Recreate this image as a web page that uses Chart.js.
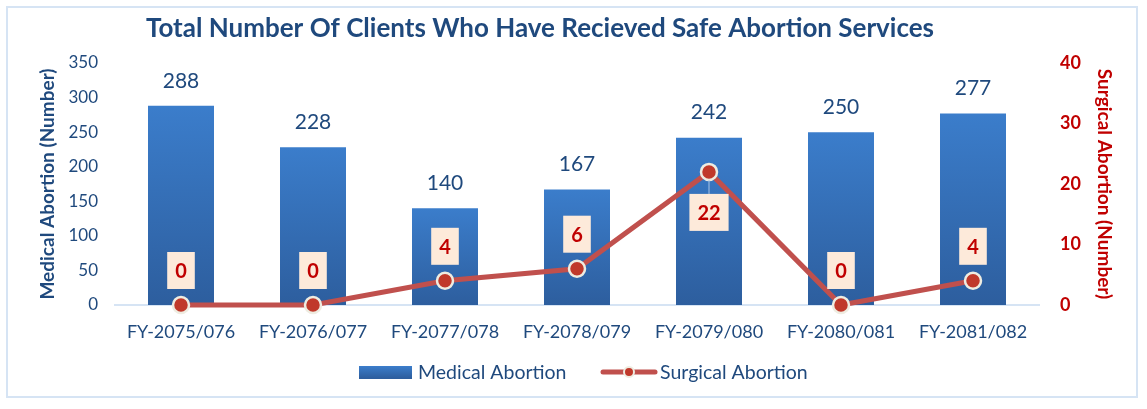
<!DOCTYPE html>
<html>
<head>
<meta charset="utf-8">
<script src="https://cdn.jsdelivr.net/npm/chart.js@4.4.1/dist/chart.umd.min.js"></script>
<style>
  html, body { margin: 0; padding: 0; background: #fff; }
  #wrap { position: relative; width: 1147px; height: 409px; }
  #frame { position: absolute; left: 6px; top: 6px; width: 1132px; height: 392px; border: 2px solid #D6E4F4; box-sizing: border-box; }
  canvas { position: absolute; left: 0; top: 0; }
</style>
</head>
<body>
<div id="wrap">
  <div id="frame"></div>
  <canvas id="chart" width="1147" height="409"></canvas>
</div>
<script>
const categories = ['FY-2075/076', 'FY-2076/077', 'FY-2077/078', 'FY-2078/079', 'FY-2079/080', 'FY-2080/081', 'FY-2081/082']
const medicalAbortion = [288, 228, 140, 167, 242, 250, 277]
const surgicalAbortion = [0, 0, 4, 6, 22, 0, 4]
const leftTicks = [0, 50, 100, 150, 200, 250, 300, 350]
const rightTicks = [0, 10, 20, 30, 40]
const chartTitle = 'Total Number Of Clients Who Have Recieved Safe Abortion Services'

const FONT = 'Lato, "Open Sans", sans-serif'
const BLUE_TEXT = '#1F497D'
const RED_TEXT = '#C00000'
const LINE_RED = '#C0504D'

// per-bar vertical gradient
function barGradient (ctx) {
  const chart = ctx.chart
  const area = chart.chartArea
  if (!area || ctx.raw == null) return '#3A7CC9'
  const y = chart.scales.y
  const top = y.getPixelForValue(ctx.raw)
  const g = chart.ctx.createLinearGradient(0, top, 0, y.getPixelForValue(0))
  g.addColorStop(0, '#3B7DCB')
  g.addColorStop(1, '#2D5E9E')
  return g
}

const labelsPlugin = {
  id: 'valueLabels',
  afterDatasetsDraw (chart) {
    const ctx = chart.ctx
    ctx.save()
    // bar values
    const barMeta = chart.getDatasetMeta(0)
    ctx.font = '21px ' + FONT
    ctx.fillStyle = BLUE_TEXT
    ctx.textAlign = 'center'
    ctx.textBaseline = 'middle'
    barMeta.data.forEach((bar, i) => {
      ctx.fillText(String(medicalAbortion[i]), bar.x, bar.y - 25)
    })
    // line values in boxes
    const lineMeta = chart.getDatasetMeta(1)
    const maxVal = Math.max(...surgicalAbortion)
    ctx.font = 'bold 20px ' + FONT
    lineMeta.data.forEach((pt, i) => {
      const txt = String(surgicalAbortion[i])
      const w = ctx.measureText(txt).width + 16
      const h = 37
      let cy
      if (surgicalAbortion[i] === maxVal) {
        cy = pt.y + 22 + h / 2
        ctx.strokeStyle = '#A9C4E6'
        ctx.lineWidth = 1
        ctx.beginPath()
        ctx.moveTo(pt.x, pt.y + 8)
        ctx.lineTo(pt.x, cy - h / 2)
        ctx.stroke()
      } else {
        cy = pt.y - 16 - h / 2
      }
      ctx.fillStyle = '#FDEADA'
      ctx.fillRect(pt.x - w / 2, cy - h / 2, w, h)
      ctx.fillStyle = RED_TEXT
      ctx.fillText(txt, pt.x, cy + 1)
    })
    ctx.restore()
  },
  afterDraw (chart) {
    const ctx = chart.ctx
    const area = chart.chartArea
    ctx.save()
    // title
    ctx.font = 'bold 26px ' + FONT
    ctx.fillStyle = BLUE_TEXT
    ctx.textAlign = 'center'
    ctx.textBaseline = 'middle'
    ctx.fillText(chartTitle, 540, 29)
    // legend
    const y = area.bottom + 67
    const g = ctx.createLinearGradient(0, y - 6, 0, y + 6)
    g.addColorStop(0, '#3B7DCB')
    g.addColorStop(1, '#2D5E9E')
    ctx.fillStyle = g
    ctx.fillRect(359, y - 6, 53, 13)
    ctx.font = '19.5px ' + FONT
    ctx.fillStyle = BLUE_TEXT
    ctx.textAlign = 'left'
    ctx.fillText('Medical Abortion', 418, y + 1)
    ctx.strokeStyle = LINE_RED
    ctx.lineWidth = 5
    ctx.lineCap = 'round'
    ctx.beginPath()
    ctx.moveTo(603, y)
    ctx.lineTo(655, y)
    ctx.stroke()
    ctx.beginPath()
    ctx.arc(629, y, 5, 0, Math.PI * 2)
    ctx.fillStyle = '#C0392B'
    ctx.fill()
    ctx.lineWidth = 2
    ctx.strokeStyle = '#EEECE1'
    ctx.stroke()
    ctx.fillStyle = BLUE_TEXT
    ctx.fillText('Surgical Abortion', 660, y + 1)
    ctx.restore()
  }
}

new Chart(document.getElementById('chart').getContext('2d'), {
  data: {
    labels: categories,
    datasets: [
      {
        type: 'bar',
        label: 'Medical Abortion',
        data: medicalAbortion,
        yAxisID: 'y',
        backgroundColor: barGradient,
        categoryPercentage: 0.5,
        barPercentage: 1,
        order: 2
      },
      {
        type: 'line',
        label: 'Surgical Abortion',
        data: surgicalAbortion,
        yAxisID: 'y1',
        borderColor: LINE_RED,
        borderWidth: 5,
        pointRadius: 8,
        pointHoverRadius: 8,
        pointBackgroundColor: '#C0392B',
        pointBorderColor: '#EEECE1',
        pointBorderWidth: 2.5,
        tension: 0,
        clip: false,
        order: 1
      }
    ]
  },
  options: {
    responsive: false,
    animation: false,
    layout: { padding: { left: 30, right: 28, top: 63, bottom: 44 } },
    plugins: {
      legend: { display: false },
      tooltip: { enabled: false },
      title: { display: false }
    },
    scales: {
      x: {
        grid: { display: false, drawTicks: false },
        border: { display: true, color: '#D6E4F4', width: 2 },
        ticks: { color: BLUE_TEXT, font: { family: FONT, size: 18 }, padding: 16, maxRotation: 0 },
        afterFit (scale) { scale.height = 60 }
      },
      y: {
        position: 'left',
        min: 0,
        max: 350,
        afterBuildTicks (scale) { scale.ticks = leftTicks.map(v => ({ value: v })) },
        grid: { display: false, drawTicks: false },
        border: { display: false },
        ticks: { color: BLUE_TEXT, font: { family: FONT, size: 17 }, padding: 17 },
        title: {
          display: true,
          text: 'Medical Abortion (Number)',
          color: BLUE_TEXT,
          font: { family: FONT, size: 19, weight: 'bold' },
          padding: { top: 6, bottom: 0 }
        },
        afterFit (scale) { scale.width = 85 }
      },
      y1: {
        position: 'right',
        min: 0,
        max: 40,
        afterBuildTicks (scale) { scale.ticks = rightTicks.map(v => ({ value: v })) },
        grid: { display: false, drawTicks: false },
        border: { display: false },
        ticks: { color: RED_TEXT, font: { family: FONT, size: 18, weight: 'bold' }, padding: 21 },
        title: {
          display: true,
          text: 'Surgical Abortion (Number)',
          color: RED_TEXT,
          font: { family: FONT, size: 19, weight: 'bold' },
          padding: { top: 3, bottom: 0 }
        },
        afterFit (scale) { scale.width = 80 }
      }
    }
  },
  plugins: [labelsPlugin]
})
</script>
</body>
</html>
